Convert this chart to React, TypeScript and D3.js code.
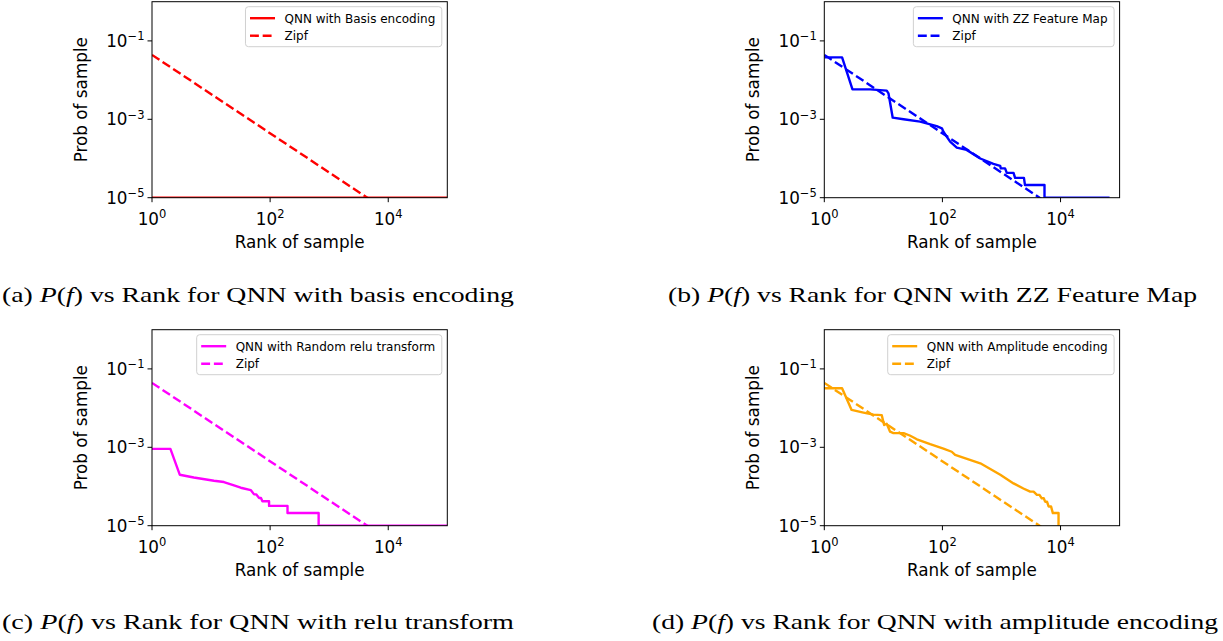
import React from "react";
import * as d3 from "d3";

// ---------- data ----------
const xTicks = [1, 100, 10000];
const xTickExp = ["0", "2", "4"];
const yTicks = [1e-1, 1e-3, 1e-5];
const yTickExp = ["\u22121", "\u22123", "\u22125"];

const basisSeries: [number, number][] = [
  [1, 1e-5],
  [1e5, 1e-5],
];
const basisZipf: [number, number][] = [
  [1, 0.044],
  [1e5, 4.4e-7],
];

const zzSeries: [number, number][] = [
  [1, 0.038], [2, 0.038], [3, 0.0058], [6, 0.0058], [11.4, 0.0054], [12.2, 0.0046],
  [14.4, 0.0011], [22, 0.001], [42, 8.7e-4], [80, 6.7e-4], [98, 5.9e-4], [104, 4.8e-4],
  [135, 2.7e-4], [175, 1.9e-4], [257, 1.66e-4], [437, 1.0e-4], [730, 7.3e-5],
  [950, 6.5e-5], [975, 5.6e-5], [1150, 5.6e-5], [1230, 4.3e-5], [1600, 4.3e-5],
  [1700, 3.2e-5], [2400, 3.2e-5], [2500, 2.1e-5], [5350, 2.1e-5], [5350, 1e-5],
  [67600, 1e-5],
];
const zzZipf: [number, number][] = [
  [1, 0.044],
  [1e5, 4.4e-7],
];

const reluSeries: [number, number][] = [
  [1, 9.1e-4], [2.05, 9.1e-4], [2.95, 2.0e-4], [5.1, 1.7e-4], [11.2, 1.4e-4],
  [16.5, 1.3e-4], [24.4, 1.07e-4], [31.8, 9.3e-5], [47, 8.1e-5], [53.5, 6.3e-5],
  [58, 6.3e-5], [65, 5.1e-5], [70, 5.1e-5], [74, 4.2e-5], [96, 4.2e-5], [96, 3.2e-5],
  [197, 3.2e-5], [197, 2.1e-5], [663, 2.1e-5], [663, 1e-5], [1e5, 1e-5],
];
const reluZipf: [number, number][] = [
  [1, 0.044],
  [1e5, 4.4e-7],
];

const ampSeries: [number, number][] = [
  [1, 0.032], [2, 0.032], [2.9, 0.009], [4.6, 0.0077], [6.8, 0.0068], [9.4, 0.0066],
  [10.3, 0.0037], [11.4, 0.004], [13, 0.0025], [14.8, 0.0023], [22, 0.0023],
  [28, 0.002], [37, 0.0016], [62, 0.0012], [104, 9.3e-4], [144, 7.7e-4], [164, 6.4e-4],
  [438, 3.9e-4], [955, 2.0e-4], [1600, 1.2e-4], [2350, 8.9e-5], [3060, 7.4e-5],
  [3500, 7.4e-5], [3980, 6.1e-5], [4400, 6.1e-5], [4800, 5.0e-5], [5200, 5.0e-5],
  [5480, 4.1e-5], [5900, 4.1e-5], [6270, 3.1e-5], [6900, 3.1e-5], [7410, 2.1e-5],
  [9250, 2.1e-5], [9250, 1e-5],
];
const ampZipf: [number, number][] = [
  [1, 0.044],
  [1e5, 4.4e-7],
];

const seriesLabels = [
  "QNN with Basis encoding",
  "QNN with ZZ Feature Map",
  "QNN with Random relu transform",
  "QNN with Amplitude encoding",
];
const zipfLabel = "Zipf";
const colors = ["#ff0000", "#0000ff", "#ff00ff", "#ffa500"];
const captionLetters = ["(a)", "(b)", "(c)", "(d)"];
const captionTails = [
  " vs Rank for QNN with basis encoding",
  " vs Rank for QNN with ZZ Feature Map",
  " vs Rank for QNN with relu transform",
  " vs Rank for QNN with amplitude encoding",
];
const xLabel = "Rank of sample";
const yLabel = "Prob of sample";

// ---------- layout ----------
const W = 1223;
const H = 641;
const PW = 295.3;
const PH = 196;
const panelPos = [
  { x: 152, y: 1.7 },
  { x: 824.3, y: 1.7 },
  { x: 152, y: 329.7 },
  { x: 824.3, y: 329.7 },
];
const captionPos = [
  { x: 2, y: 302, w: 512 },
  { x: 668, y: 302, w: 529 },
  { x: 2, y: 629, w: 512 },
  { x: 652, y: 629, w: 566 },
];

const FONT = "'DejaVu Sans', sans-serif";

function measure(text: string, font: string): number {
  if (typeof document === "undefined") return text.length * 7;
  const c = document.createElement("canvas");
  const ctx = c.getContext("2d");
  if (!ctx) return text.length * 7;
  ctx.font = font;
  return ctx.measureText(text).width;
}

function Panel({ idx, series, zipf }: { idx: number; series: [number, number][]; zipf: [number, number][] }) {
  const { x: x0, y: y0 } = panelPos[idx];
  const xs = d3.scaleLog().domain([1, 1e5]).range([x0, x0 + PW]);
  const ys = d3.scaleLog().domain([1e-5, 1]).range([y0 + PH, y0]);
  const line = d3
    .line<[number, number]>()
    .x((d) => xs(d[0]))
    .y((d) => ys(d[1]));
  const color = colors[idx];
  const clipId = `clip${idx}`;

  const legFont = 12;
  const tw = measure(seriesLabels[idx], `${legFont}px DejaVu Sans`);
  const boxW = 39 + tw + 6.5;
  const boxR = x0 + PW - 5.5;
  const boxL = boxR - boxW;
  const boxT = y0 + 5;
  const boxH = 40;
  const row1 = boxT + 11.5;
  const row2 = boxT + 29;

  const tickFs = 16.8;
  const supFs = 11.5;

  return (
    <g>
      <defs>
        <clipPath id={clipId}>
          <rect x={x0} y={y0} width={PW} height={PH} />
        </clipPath>
      </defs>
      <g clipPath={`url(#${clipId})`}>
        <path d={line(zipf) || ""} fill="none" stroke={color} strokeWidth={2.4} strokeDasharray="8.9,3.8" />
        <path d={line(series) || ""} fill="none" stroke={color} strokeWidth={2.4} strokeLinejoin="round" />
      </g>
      <rect x={x0} y={y0} width={PW} height={PH} fill="none" stroke="#000" strokeWidth={1} />
      {xTicks.map((t, i) => (
        <g key={`xt${i}`}>
          <line x1={xs(t)} x2={xs(t)} y1={y0 + PH} y2={y0 + PH + 4.5} stroke="#000" strokeWidth={1} />
          <text x={xs(t)} y={y0 + PH + 27} textAnchor="middle" fontFamily={FONT} fontSize={tickFs} fill="#000">
            10
            <tspan dy={-6.5} fontSize={supFs}>
              {xTickExp[i]}
            </tspan>
          </text>
        </g>
      ))}
      {yTicks.map((t, i) => (
        <g key={`yt${i}`}>
          <line x1={x0 - 4.5} x2={x0} y1={ys(t)} y2={ys(t)} stroke="#000" strokeWidth={1} />
          <text x={x0 - 7.5} y={ys(t) + 6} textAnchor="end" fontFamily={FONT} fontSize={tickFs} fill="#000">
            10
            <tspan dy={-6.5} fontSize={supFs}>
              {yTickExp[i]}
            </tspan>
          </text>
        </g>
      ))}
      <text x={x0 + PW / 2} y={y0 + PH + 50.5} textAnchor="middle" fontFamily={FONT} fontSize={16.8} fill="#000">
        {xLabel}
      </text>
      <text
        transform={`translate(${x0 - 65},${y0 + PH / 2}) rotate(-90)`}
        textAnchor="middle"
        fontFamily={FONT}
        fontSize={16.8}
        fill="#000"
      >
        {yLabel}
      </text>
      <rect x={boxL} y={boxT} width={boxW} height={boxH} rx={3} fill="#fff" fillOpacity={0.8} stroke="#d0d0d0" strokeWidth={1} />
      <line x1={boxL + 4.5} x2={boxL + 29.5} y1={row1} y2={row1} stroke={color} strokeWidth={2.4} />
      <line x1={boxL + 4.5} x2={boxL + 29.5} y1={row2} y2={row2} stroke={color} strokeWidth={2.4} strokeDasharray="8.9,3.8" />
      <text x={boxL + 39} y={row1 + 4.3} fontFamily={FONT} fontSize={legFont} fill="#000">
        {seriesLabels[idx]}
      </text>
      <text x={boxL + 39} y={row2 + 4.3} fontFamily={FONT} fontSize={legFont} fill="#000">
        {zipfLabel}
      </text>
    </g>
  );
}

function Caption({ idx }: { idx: number }) {
  const p = captionPos[idx];
  return (
    <text
      x={p.x}
      y={p.y}
      fontFamily="'Liberation Serif', 'DejaVu Serif', serif"
      fontSize={22}
      fill="#000"
      textLength={p.w}
      lengthAdjust="spacingAndGlyphs"
    >
      {captionLetters[idx] + " "}
      <tspan fontStyle="italic">P</tspan>
      {"("}
      <tspan fontStyle="italic">f</tspan>
      {")" + captionTails[idx]}
    </text>
  );
}

export default function App() {
  const allSeries = [basisSeries, zzSeries, reluSeries, ampSeries];
  const allZipf = [basisZipf, zzZipf, reluZipf, ampZipf];
  return (
    <svg
      width={W}
      height={H}
      viewBox={`0 0 ${W} ${H}`}
      style={{ position: "absolute", left: 0, top: 0, display: "block", background: "#fff" }}
    >
      <rect x={0} y={0} width={W} height={H} fill="#fff" />
      {allSeries.map((s, i) => (
        <Panel key={i} idx={i} series={s} zipf={allZipf[i]} />
      ))}
      {[0, 1, 2, 3].map((i) => (
        <Caption key={i} idx={i} />
      ))}
    </svg>
  );
}
